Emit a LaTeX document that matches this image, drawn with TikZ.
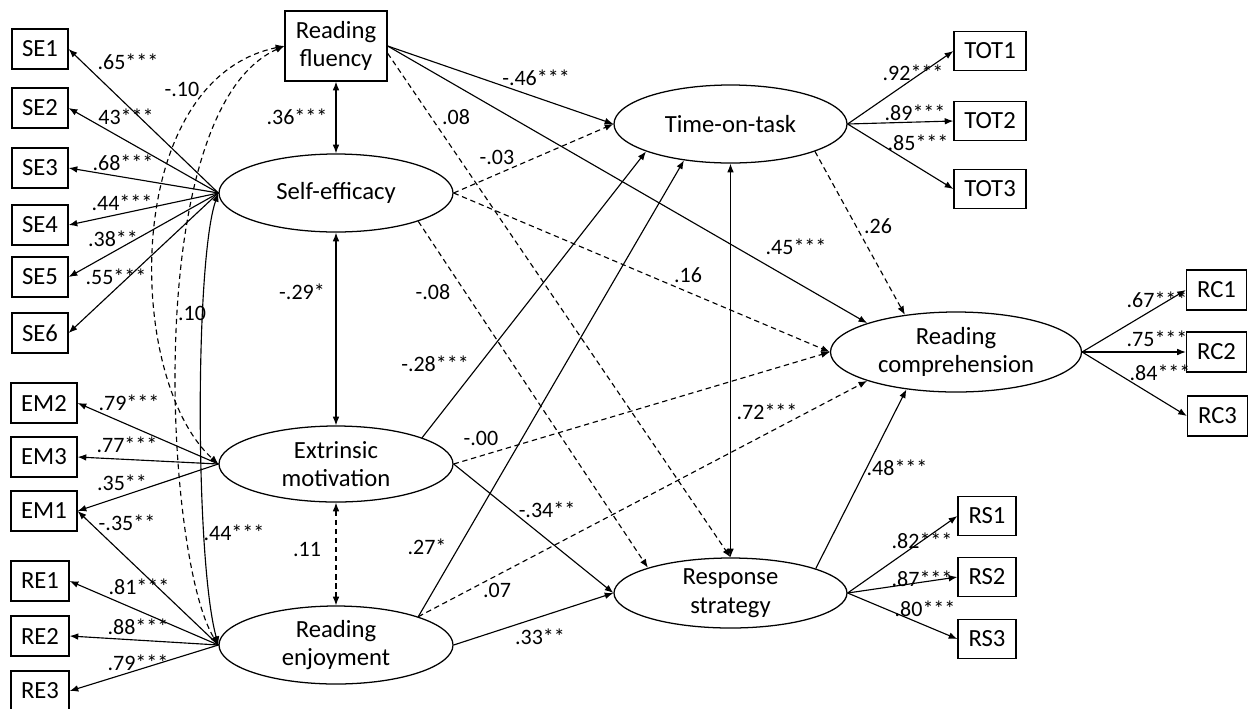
\documentclass[tikz,border=0pt]{standalone}
\usepackage{fontspec}
\setmainfont{Carlito}
\usetikzlibrary{shapes.geometric,arrows.meta}
\begin{document}
\begin{tikzpicture}[x=0.75pt,y=-0.75pt,
  every node/.style={font=\fontsize{18.5}{21.5}\selectfont},
  box/.style 2 args={draw, line width=0.95pt, inner sep=0pt, minimum width=#1, minimum height=#2, align=center},
  lat/.style 2 args={draw, ellipse, line width=0.95pt, inner sep=0pt, minimum width=#1, minimum height=#2},
  lab/.style={font=\fontsize{16.5}{19}\selectfont, inner sep=0pt},
  arr/.style={-{Latex[length=6.5pt,width=5pt]}, line width=0.85pt},
  dbl/.style={{Latex[length=6.5pt,width=5pt]}-{Latex[length=6.5pt,width=5pt]}, line width=0.85pt},
  dsh/.style={dash pattern=on 4pt off 2.8pt}
]
\useasboundingbox (0,0) rectangle (1248,708);
\fill[white] (0,0) rectangle (1248,708);

% indicator boxes left
\node[box={42pt}{30pt}] (SE1) at (40,49) {SE1};
\node[box={42pt}{30pt}] (SE2) at (40,108) {SE2};
\node[box={42pt}{30pt}] (SE3) at (40,168) {SE3};
\node[box={42pt}{30pt}] (SE4) at (40,225) {SE4};
\node[box={42pt}{30pt}] (SE5) at (40,277) {SE5};
\node[box={42pt}{30pt}] (SE6) at (40,333) {SE6};
\node[box={49.5pt}{30pt}] (EM2) at (44,403) {EM2};
\node[box={49.5pt}{30pt}] (EM3) at (44,457) {EM3};
\node[box={49.5pt}{30pt}] (EM1) at (44,511) {EM1};
\node[box={43.5pt}{30pt}] (RE1) at (40,581) {RE1};
\node[box={43.5pt}{30pt}] (RE2) at (40,636) {RE2};
\node[box={43.5pt}{30pt}] (RE3) at (40,691) {RE3};

% reading fluency
\node[box={76.5pt}{52.5pt}] (RF) at (336,46) {Reading\\fluency};

% latent variables
\node[lat={175.5pt}{58.5pt}, label={[align=center]center:Self-efficacy}] (SE) at (336,193) {};
\node[lat={175.5pt}{57pt}, label={[align=center]center:Extrinsic\\motivation}] (EM) at (336,464) {};
\node[lat={175.5pt}{58.5pt}, label={[align=center]center:Reading\\enjoyment}] (RE) at (336,645) {};
\node[lat={174.75pt}{58.5pt}, label={[align=center]center:Time-on-task}] (TOT) at (730.5,124) {};
\node[lat={188.25pt}{60pt}, label={[align=center]center:Reading\\comprehension}] (RC) at (956,352) {};
\node[lat={174.75pt}{52.5pt}, label={[align=center]center:Response\\strategy}] (RS) at (730.5,593) {};

% indicator boxes right
\node[box={54pt}{29.25pt}] (TOT1) at (990,51) {TOT1};
\node[box={54pt}{29.25pt}] (TOT2) at (990,121) {TOT2};
\node[box={54pt}{29.25pt}] (TOT3) at (990,189) {TOT3};
\node[box={45pt}{30pt}] (RC1) at (1216.5,290) {RC1};
\node[box={45pt}{30pt}] (RC2) at (1216.5,352) {RC2};
\node[box={45pt}{30pt}] (RC3) at (1217.5,416) {RC3};
\node[box={43.5pt}{29.25pt}] (RS1) at (987,516) {RS1};
\node[box={43.5pt}{29.25pt}] (RS2) at (987,577) {RS2};
\node[box={43.5pt}{29.25pt}] (RS3) at (987,639) {RS3};

% loadings left
\foreach \i in {1,...,6} \draw[arr] (SE.west) -- (SE\i.east);
\foreach \i in {1,2,3} \draw[arr] (EM.west) -- (EM\i.east);
\draw[arr] (RE.west) -- (EM1.east);
\foreach \i in {1,2,3} \draw[arr] (RE.west) -- (RE\i.east);

% loadings right
\foreach \i in {1,2,3} \draw[arr] (TOT.east) -- (TOT\i.west);
\foreach \i in {1,2,3} \draw[arr] (RC.east) -- (RC\i.west);
\foreach \i in {1,2,3} \draw[arr] (RS.east) -- (RS\i.west);

% covariances on the left
\draw[dbl,dsh] (RF.west) .. controls (120,80) and (125,380) .. (EM.west);
\draw[dbl,dsh] (RF.west) .. controls (140,110) and (165,560) .. (RE.west);
\draw[dbl] (SE.west) .. controls (195,260) and (195,560) .. (RE.west);

% vertical correlations
\draw[dbl] (RF.south) -- (SE.north);
\draw[dbl] (SE.south) -- (EM.north);
\draw[dbl,dsh] (EM.south) -- (RE.north);
\draw[dbl] (TOT.south) -- (RS.north);

% structural paths
\draw[arr] (RF.east) -- (TOT.west);
\draw[arr] (RF.east) -- (RC.162);
\draw[arr,dsh] (RF.-8) -- (RS.north);
\draw[arr,dsh] (SE.east) -- (TOT.west);
\draw[arr,dsh] (SE.east) -- (RC.west);
\draw[arr,dsh] (SE.-19) -- (RS.163);
\draw[arr] (EM.17) -- (TOT.198);
\draw[arr,dsh] (EM.east) -- (RC.west);
\draw[arr] (EM.east) -- (RS.west);
\draw[arr] (RE.19) -- (TOT.218);
\draw[arr,dsh] (RE.19) -- (RC.198);
\draw[arr] (RE.east) -- (RS.west);
\draw[arr,dsh] (TOT.-18) -- (RC.144);
\draw[arr] (RS.16) -- (RC.217);

% labels left
\node[lab] (l1) at (128,62) {.65***};
\node[lab] (l2) at (126,117) {43***};
\node[lab] (l3) at (123,163) {.68***};
\node[lab] (l4) at (122,203) {.44***};
\node[lab] (l5) at (113,239) {.38**};
\node[lab] (l6) at (116,277) {.55***};
\node[lab] (l7) at (182,89) {-.10};
\node[lab] (l8) at (192,313) {.10};
\node[lab] (l9) at (129,403) {.79***};
\node[lab] (l10) at (127,445) {.77***};
\node[lab] (l11) at (122,483) {.35**};
\node[lab] (l12) at (127,523) {-.35**};
\node[lab] (l13) at (234,533) {.44***};
\node[lab] (l14) at (139,587) {.81***};
\node[lab] (l15) at (138,627) {.88***};
\node[lab] (l16) at (138,663) {.79***};

% labels middle
\node[lab] (l17) at (297,117) {.36***};
\node[lab] (l18) at (302,292) {-.29*};
\node[lab] (l19) at (307,549) {.11};
\node[lab] (l20) at (456,117) {.08};
\node[lab] (l21) at (497,157) {-.03};
\node[lab] (l22) at (536,78) {-.46***};
\node[lab] (l23) at (433,292) {-.08};
\node[lab] (l24) at (435,364) {-.28***};
\node[lab] (l25) at (481,438) {-.00};
\node[lab] (l26) at (547,510) {-.34**};
\node[lab] (l27) at (427,547) {.27*};
\node[lab] (l28) at (497,590) {.07};
\node[lab] (l29) at (540,637) {.33**};
\node[lab] (l30) at (796,247) {.45***};
\node[lab] (l31) at (688,275) {.16};
\node[lab] (l32) at (878,226) {.26};
\node[lab] (l33) at (767,412) {.72***};
\node[lab] (l34) at (897,468) {.48***};

% labels right
\node[lab] (l35) at (913,73) {.92***};
\node[lab] (l36) at (915,113) {.89***};
\node[lab] (l37) at (918,143) {.85***};
\node[lab] (l38) at (1157,300) {.67***};
\node[lab] (l39) at (1157,339) {.75***};
\node[lab] (l40) at (1160,373) {.84***};
\node[lab] (l41) at (922,541) {.82***};
\node[lab] (l42) at (922,579) {.87***};
\node[lab] (l43) at (925,609) {.80***};
\end{tikzpicture}
\end{document}
